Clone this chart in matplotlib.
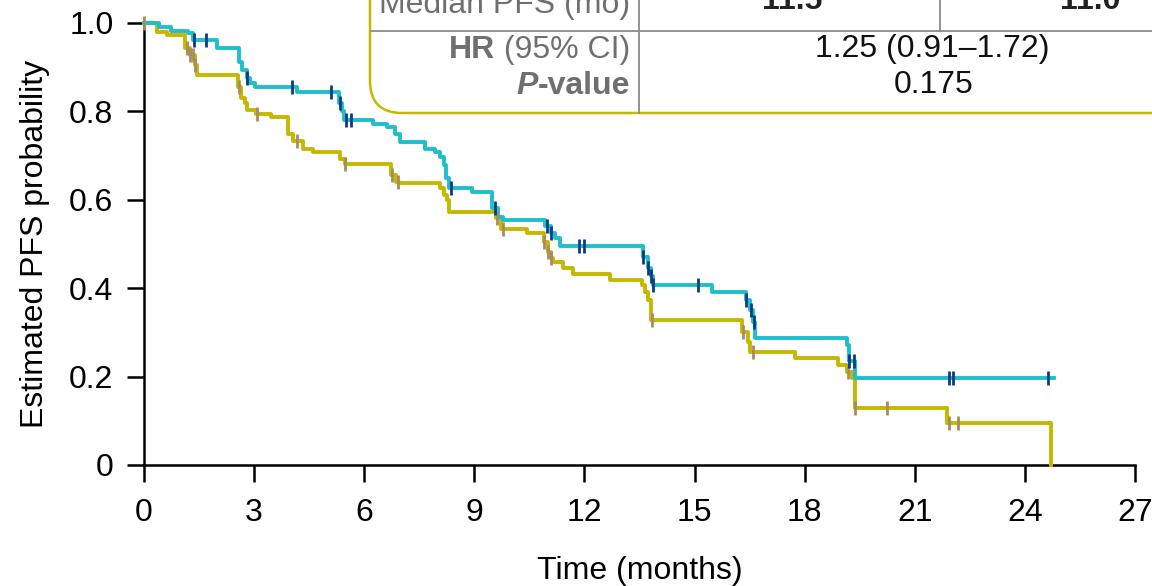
import matplotlib
matplotlib.use("Agg")
import matplotlib.pyplot as plt
import numpy as np
from matplotlib.patches import FancyBboxPatch

plt.rcParams["font.family"] = ["Liberation Sans", "DejaVu Sans"]

# Kaplan-Meier steps (time in months, survival)
cyan_t = [0, 0.41, 0.74, 1.20, 1.34, 1.99, 2.60, 2.66, 2.80, 2.88,
          3.03, 4.17, 5.31, 5.40, 5.46, 6.24, 6.62, 6.84, 6.98, 7.66,
          7.93, 8.07, 8.17, 8.23, 8.31, 8.94, 9.47, 9.65, 9.78, 10.93,
          11.08, 11.20, 11.33, 13.60, 13.72, 13.80, 13.87, 15.47, 16.40, 16.52,
          16.58, 16.66, 19.15, 19.22, 19.37, 24.78]
cyan_s = [1.0, 0.990, 0.983, 0.977, 0.962, 0.943, 0.912, 0.894, 0.876, 0.864,
          0.856, 0.845, 0.82, 0.80, 0.781, 0.771, 0.765, 0.750, 0.731, 0.716,
          0.708, 0.697, 0.679, 0.649, 0.627, 0.618, 0.581, 0.562, 0.554, 0.540,
          0.524, 0.513, 0.495, 0.471, 0.446, 0.428, 0.407, 0.392, 0.373, 0.351,
          0.324, 0.287, 0.271, 0.235, 0.196, 0.196]
cyan_censor = [1.36, 1.69, 2.80, 4.02, 5.10, 5.34, 5.50, 5.64, 8.36, 9.56,
               10.97, 11.08, 11.85, 12.0, 13.60, 13.72, 13.81, 13.87, 15.10, 16.40,
               16.55, 16.62, 19.22, 19.35, 21.93, 22.03, 24.64]

olive_t = [0, 0.35, 0.62, 1.12, 1.25, 1.39, 1.44, 2.57, 2.65, 2.75,
           2.80, 3.06, 3.47, 3.92, 4.05, 4.33, 4.61, 5.34, 5.48, 6.74,
           6.86, 6.95, 8.07, 8.16, 8.25, 8.31, 9.60, 9.72, 10.43, 10.89,
           11.00, 11.09, 11.15, 11.42, 11.69, 12.70, 13.56, 13.65, 13.72, 13.80,
           16.28, 16.45, 16.52, 17.74, 18.92, 19.15, 19.28, 19.36, 19.37, 21.88,
           24.71]
olive_s = [1.0, 0.980, 0.973, 0.943, 0.928, 0.905, 0.882, 0.856, 0.830, 0.819,
           0.803, 0.793, 0.787, 0.750, 0.732, 0.716, 0.708, 0.693, 0.681, 0.656,
           0.641, 0.638, 0.626, 0.611, 0.600, 0.573, 0.558, 0.535, 0.526, 0.505,
           0.482, 0.469, 0.459, 0.446, 0.432, 0.419, 0.407, 0.392, 0.373, 0.328,
           0.300, 0.279, 0.255, 0.243, 0.226, 0.211, 0.196, 0.174, 0.128, 0.096,
           0.0]
olive_censor = [0.0, 1.16, 1.25, 1.33, 1.40, 2.60, 3.07, 4.16, 5.48, 6.75,
                6.93, 9.61, 9.77, 10.90, 11.00, 11.09, 13.83, 16.33, 16.60, 19.19,
                19.38, 20.25, 21.92, 22.17]

xticks = np.arange(0, 28, 3)
yticks = [0, 0.2, 0.4, 0.6, 0.8, 1.0]
ytick_labels = ["0", "0.2", "0.4", "0.6", "0.8", "1.0"]

median_row = ["11.5", "11.0"]
hr_text = "1.25 (0.91\u20131.72)"
p_text = "0.175"

CYAN = "#1fbecb"
OLIVE = "#c6b700"
BLUE_TICK = "#0b3c80"
BROWN_TICK = "#a88b63"
GRAY = "#6f6f6f"
FS = 23


def step_value(times, surv, at):
    idx = np.searchsorted(times, at, side="right") - 1
    return np.asarray(surv)[idx]


fig = plt.figure(figsize=(11.52, 5.86), dpi=100)
ax = fig.add_axes([144 / 1152, 121 / 586, 991 / 1152, 442 / 586])

ax.step(olive_t, olive_s, where="post", color=OLIVE, lw=2.8, clip_on=False, zorder=3)
ax.step(cyan_t, cyan_s, where="post", color=CYAN, lw=2.8, clip_on=False, zorder=4)
ax.plot(olive_censor, step_value(olive_t, olive_s, olive_censor), ls="none",
        marker="|", ms=9.5, mew=2, color=BROWN_TICK, clip_on=False, zorder=5)
ax.plot(cyan_censor, step_value(cyan_t, cyan_s, cyan_censor), ls="none",
        marker="|", ms=9.5, mew=2, color=BLUE_TICK, clip_on=False, zorder=6)

ax.set_xlim(0, 27)
ax.set_ylim(0, 1.0)
ax.set_xticks(xticks)
ax.set_yticks(yticks)
ax.set_yticklabels(ytick_labels)
for side in ("top", "right"):
    ax.spines[side].set_visible(False)
for side in ("left", "bottom"):
    ax.spines[side].set_linewidth(1.8)
ax.tick_params(axis="both", direction="out", length=12, width=1.8, labelsize=FS)
ax.tick_params(axis="x", pad=12)
ax.tick_params(axis="y", pad=10)
ax.set_xlabel("Time (months)", fontsize=FS, labelpad=20)
ax.set_ylabel("Estimated PFS probability", fontsize=FS, labelpad=14)

# summary table, drawn in pixel coordinates on an overlay
tab = fig.add_axes([0, 0, 1, 1], zorder=10)
tab.set_xlim(0, 1152)
tab.set_ylim(586, 0)
tab.axis("off")
tab.add_patch(FancyBboxPatch((370, -300), 950, 413,
                             boxstyle="round,pad=0,rounding_size=32",
                             fc="white", ec=OLIVE, lw=1.8, clip_on=False))
tab.plot([371, 1152], [31, 31], color="#8a8a8a", lw=1.3)
tab.plot([639, 639], [-5, 113], color="#8a8a8a", lw=1.3)
tab.plot([940, 940], [-5, 31], color="#8a8a8a", lw=1.3)

fig.canvas.draw()
renderer = fig.canvas.get_renderer()


def right_parts(x, y, parts):
    for text, kw in reversed(parts):
        t = tab.text(x, y, text, ha="right", va="baseline", fontsize=FS,
                     color=GRAY, **kw)
        x -= t.get_window_extent(renderer).width


right_parts(630, 13, [("Median PFS (mo)", {})])
right_parts(630, 58, [("HR", {"fontweight": "bold"}), (" (95% CI)", {})])
right_parts(630, 94, [("P", {"fontweight": "bold", "fontstyle": "italic"}),
                      ("-value", {"fontweight": "bold"})])
for cx, val in zip([792, 1090], median_row):
    tab.text(cx, 9, val, ha="center", va="baseline", fontsize=FS,
             fontweight="bold", color="#222222")
tab.text(932, 57, hr_text, ha="center", va="baseline", fontsize=FS, color="#111111")
tab.text(934, 93, p_text, ha="center", va="baseline", fontsize=FS, color="#111111")

fig.savefig("out.png", dpi=100)
